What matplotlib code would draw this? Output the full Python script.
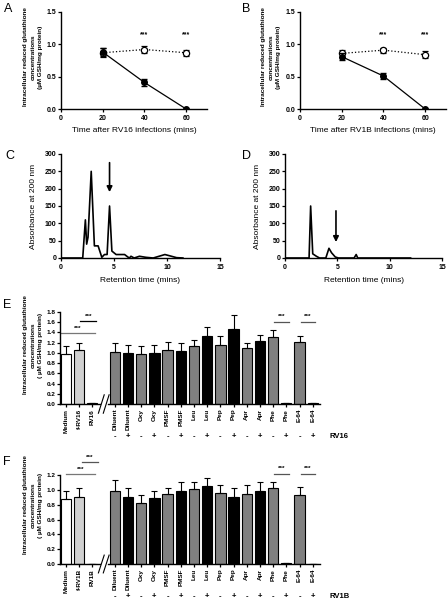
import numpy as np
import matplotlib
matplotlib.use('Agg')
import matplotlib.pyplot as plt

plt.rcParams['font.family'] = ['Liberation Sans', 'DejaVu Sans']
plt.rcParams['font.weight'] = 'bold'
plt.rcParams['axes.linewidth'] = 1.0
plt.rcParams['xtick.major.size'] = 2.5
plt.rcParams['ytick.major.size'] = 2.5
plt.rcParams['xtick.major.width'] = 0.9
plt.rcParams['ytick.major.width'] = 0.9
plt.rcParams['xtick.major.pad'] = 1.5
plt.rcParams['ytick.major.pad'] = 1.0

# --- panels A/B : GSH over time ---
time_pts = [20, 40, 60]
a_inf = [0.88, 0.41, 0.0]
a_inf_err = [0.06, 0.06, 0.0]
a_ctl = [0.87, 0.92, 0.87]
a_ctl_err = [0.07, 0.05, 0.05]
b_inf = [0.81, 0.51, 0.0]
b_inf_err = [0.05, 0.04, 0.0]
b_ctl = [0.86, 0.91, 0.84]
b_ctl_err = [0.06, 0.04, 0.05]

# --- panels C/D : chromatograms ---
c_time = [0, 2.05, 2.3, 2.42, 2.55, 2.85, 3.15, 3.5, 3.85, 4.1, 4.35, 4.58, 4.8, 5.2,
          6.0, 6.3, 6.45, 6.6, 6.9, 7.4, 8.0, 8.7, 9.8, 10.3, 10.9, 11.5]
c_abs = [0, 0, 110, 40, 60, 250, 35, 35, 2, 10, 10, 150, 20, 10,
         10, 3, 0, 5, 0, 5, 2, 0, 10, 6, 1, 0]
d_time = [0, 2.3, 2.45, 2.65, 3.0, 3.3, 3.9, 4.2, 4.45, 4.8, 5.1, 6.6, 6.8, 6.95, 12]
d_abs = [0, 0, 150, 12, 5, 0, 0, 28, 15, 3, 0, 0, 10, 0, 0]

# --- panels E/F : bar charts ---
treat_names = ['Diluent', 'Oxy', 'PMSF', 'Leu', 'Pep', 'Apr', 'Phe', 'E-64']
e_ctrl_labels = ['Medium', 'f-RV16', 'RV16']
e_ctrl = [0.97, 1.06, 0.02]
e_ctrl_err = [0.17, 0.14, 0.0]
e_treat = [1.01, 0.99, 0.97, 1.00, 1.06, 1.03, 1.14, 1.33,
           1.16, 1.46, 1.09, 1.23, 1.31, 0.01, 1.21, 0.01]
e_treat_err = [0.18, 0.17, 0.17, 0.15, 0.16, 0.17, 0.12, 0.18,
               0.18, 0.29, 0.11, 0.12, 0.14, 0.0, 0.12, 0.0]
f_ctrl_labels = ['Medium', 'f-RV1B', 'RV1B']
f_ctrl = [0.88, 0.91, 0.0]
f_ctrl_err = [0.10, 0.12, 0.0]
f_treat = [0.985, 0.90, 0.82, 0.89, 0.95, 0.98, 1.01, 1.05,
           0.96, 0.90, 0.95, 0.985, 1.02, 0.01, 0.93, 0.0]
f_treat_err = [0.145, 0.13, 0.11, 0.09, 0.08, 0.12, 0.09, 0.11,
               0.10, 0.12, 0.11, 0.125, 0.09, 0.0, 0.11, 0.0]

W, H = 448, 602
fig = plt.figure(figsize=(W / 100, H / 100), dpi=100)


def px_axes(x0, y0, x1, y1):
    # axes from pixel box (top-left origin)
    return fig.add_axes([x0 / W, 1 - y1 / H, (x1 - x0) / W, (y1 - y0) / H])


def clean(ax):
    ax.spines['top'].set_visible(False)
    ax.spines['right'].set_visible(False)
    ax.tick_params(labelsize=5)


ylab_gsh = 'Intracellular reduced glutathione\nconcentrations\n(µM GSH/mg protein)'


def time_panel(ax, inf, inf_err, ctl, ctl_err, xlabel):
    clean(ax)
    ax.errorbar(time_pts, ctl, yerr=ctl_err, fmt='o', ls=':', color='k', lw=0.9,
                mfc='white', mec='k', ms=4.5, capsize=2, elinewidth=0.9, mew=0.9, zorder=3)
    ax.errorbar(time_pts, inf, yerr=inf_err, fmt='o', ls='-', color='k', lw=0.9,
                ms=4, capsize=2, elinewidth=0.9, zorder=4)
    for t in time_pts[1:]:
        ax.text(t, 1.1, '***', ha='center', va='bottom', fontsize=5)
    ax.set_xlim(0, 70)
    ax.set_ylim(0, 1.5)
    ax.set_xticks([0, 20, 40, 60])
    ax.set_yticks([0, 0.5, 1.0, 1.5])
    ax.set_yticklabels(['0.0', '0.5', '1.0', '1.5'])
    ax.set_xlabel(xlabel, fontsize=6, labelpad=4)


axA = px_axes(61, 12, 207, 109)
time_panel(axA, a_inf, a_inf_err, a_ctl, a_ctl_err, 'Time after RV16 infections (mins)')
fig.text(33 / W, 1 - 57 / H, ylab_gsh, rotation=90, ha='center', va='center',
         fontsize=4.6, linespacing=1.6, multialignment='center')
axB = px_axes(300, 12, 446, 109)
time_panel(axB, b_inf, b_inf_err, b_ctl, b_ctl_err, 'Time after RV1B infections (mins)')
fig.text(271 / W, 1 - 57 / H, ylab_gsh, rotation=90, ha='center', va='center',
         fontsize=4.6, linespacing=1.6, multialignment='center')


def chrom_panel(ax, t, a, arrow_x, arrow_top, arrow_tip):
    clean(ax)
    ax.plot(t, a, color='k', lw=1.2)
    ax.annotate('', xy=(arrow_x, arrow_tip), xytext=(arrow_x, arrow_top),
                arrowprops=dict(arrowstyle='-|>', color='k', lw=1.2, mutation_scale=8))
    ax.set_xlim(0, 15)
    ax.set_ylim(0, 300)
    ax.set_xticks([0, 5, 10, 15])
    ax.set_yticks(range(0, 301, 50))
    ax.set_xlabel('Retention time (mins)', fontsize=6, labelpad=5)
    ax.set_ylabel('Absorbance at 200 nm', fontsize=6, fontweight='normal', labelpad=5)


axC = px_axes(61, 154, 220, 258)
chrom_panel(axC, c_time, c_abs, 4.58, 283, 182)
axD = px_axes(285, 154, 442, 258)
chrom_panel(axD, d_time, d_abs, 4.87, 144, 38)

ctrl_x = np.array([0, 1, 2])
treat_x = 3.7 + np.arange(16)
treat_colors = ['#808080', 'black'] * 8
x_lo, x_hi = -0.45, 19.25


def bar_panel(ax, ctrl, ctrl_err, treat, treat_err, ctrl_labels, virus, ymax, sig):
    ax.spines['top'].set_visible(False)
    ax.spines['right'].set_visible(False)
    ax.spines['bottom'].set_visible(False)
    kw = dict(width=0.78, edgecolor='k', linewidth=0.8,
              error_kw=dict(elinewidth=0.8, capthick=0.8), capsize=2)
    ax.bar(ctrl_x, ctrl, yerr=[np.zeros(3), ctrl_err],
           color=['white', '#d0d0d0', 'white'], **kw)
    ax.bar(treat_x, treat, yerr=[np.zeros(16), treat_err], color=treat_colors, **kw)
    ax.set_xlim(x_lo, x_hi)
    ax.set_ylim(0, ymax)
    ticks = np.round(np.linspace(0, ymax, int(round(ymax / 0.2)) + 1), 1)
    ax.set_yticks(ticks)
    ax.set_yticklabels(['%.1f' % v for v in ticks])
    labels = list(ctrl_labels) + [n for n in treat_names for _ in range(2)]
    ax.set_xticks(np.concatenate([ctrl_x, treat_x]))
    ax.set_xticklabels(labels, rotation=90)
    ax.tick_params(labelsize=4.6)
    ax.tick_params(axis='x', length=2)
    # broken x axis
    tr = ax.get_xaxis_transform()
    ax.plot([x_lo, 2.6], [0, 0], color='k', lw=1.0, transform=tr, clip_on=False)
    ax.plot([3.15, x_hi], [0, 0], color='k', lw=1.0, transform=tr, clip_on=False)
    for bx in [2.68, 3.05]:
        ax.plot([bx - 0.22, bx + 0.22], [-0.1, 0.1], color='k', lw=0.8,
                transform=tr, clip_on=False)
    for i, x in enumerate(treat_x):
        ax.annotate('-' if i % 2 == 0 else '+', xy=(x, 0), xycoords=tr,
                    xytext=(0, -23.5), textcoords='offset points',
                    ha='center', va='center', fontsize=5.5)
    ax.annotate(virus, xy=(20.0, 0), xycoords=tr, xytext=(0, -23.5),
                textcoords='offset points', ha='left', va='center', fontsize=5.5)
    for x0, x1, y, col in sig:
        ax.plot([x0, x1], [y, y], color=col, lw=0.9, clip_on=False)
        ax.text((x0 + x1) / 2, y + ymax * 0.025, '***', ha='center', va='bottom',
                fontsize=4.6)


axE = px_axes(60, 312, 320, 404)
bar_panel(axE, e_ctrl, e_ctrl_err, e_treat, e_treat_err, e_ctrl_labels, 'RV16', 1.8,
          [(-0.4, 2.2, 1.38, '#777777'), (1.1, 2.3, 1.62, 'k'),
           (15.8, 16.9, 1.61, '#555555'), (17.8, 18.9, 1.61, '#555555')])
fig.text(33 / W, 1 - 345 / H, ylab_gsh.replace('(µM', '( µM'), rotation=90, ha='center',
         va='center', fontsize=4.6, linespacing=1.6, multialignment='center')

axF = px_axes(60, 475, 320, 564)
bar_panel(axF, f_ctrl, f_ctrl_err, f_treat, f_treat_err, f_ctrl_labels, 'RV1B', 1.2,
          [(0.0, 2.2, 1.21, '#777777'), (1.2, 2.4, 1.37, '#555555'),
           (15.8, 16.9, 1.22, '#555555'), (17.8, 18.9, 1.22, '#555555')])
fig.text(33 / W, 1 - 505 / H, ylab_gsh.replace('(µM', '( µM'), rotation=90, ha='center',
         va='center', fontsize=4.6, linespacing=1.6, multialignment='center')

for lab, x, y in [('A', 4, 9), ('B', 242, 9), ('C', 5, 156), ('D', 242, 156),
                  ('E', 3, 305), ('F', 3, 462)]:
    fig.text(x / W, 1 - y / H, lab, fontsize=9, fontweight='normal', va='center')

fig.savefig('out.png', dpi=100)
